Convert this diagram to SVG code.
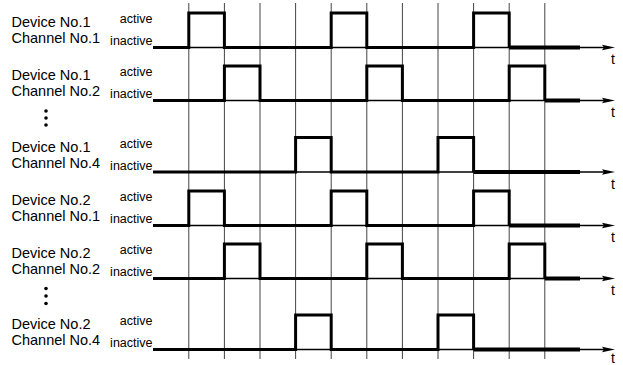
<svg xmlns="http://www.w3.org/2000/svg" width="623" height="365" viewBox="0 0 623 365">
<style>
.lbl{font-family:"Liberation Sans",Arial,sans-serif;font-size:14.5px;fill:#000}
.st{font-family:"Liberation Sans",Arial,sans-serif;font-size:12.5px;fill:#000;text-anchor:end}
.t{font-family:"Liberation Sans",Arial,sans-serif;font-size:14px;fill:#000}
.grid{stroke:#444;stroke-width:1;fill:none}
.axis{stroke:#000;stroke-width:1.6;fill:none}
.sig{stroke:#000;stroke-width:3;fill:none;stroke-linejoin:miter;stroke-linecap:butt}
.tail{stroke:#000;stroke-width:4;fill:none}
.dot{fill:#000}
</style>
<defs>
<g id="arrow"><polygon points="615,0 602,-2.8 604,0 602,2.8" fill="#000"/></g>
</defs>
<g id="grid" class="grid">
<line x1="188.8" y1="3" x2="188.8" y2="359"/>
<line x1="224.4" y1="3" x2="224.4" y2="359"/>
<line x1="260" y1="3" x2="260" y2="359"/>
<line x1="295.6" y1="3" x2="295.6" y2="359"/>
<line x1="331.2" y1="3" x2="331.2" y2="359"/>
<line x1="366.8" y1="3" x2="366.8" y2="359"/>
<line x1="402.4" y1="3" x2="402.4" y2="359"/>
<line x1="438" y1="3" x2="438" y2="359"/>
<line x1="473.6" y1="3" x2="473.6" y2="359"/>
<line x1="509.2" y1="3" x2="509.2" y2="359"/>
<line x1="544.8" y1="3" x2="544.8" y2="359"/>
</g>
<g id="connectors">
<line class="axis" x1="153" y1="47.5" x2="604" y2="47.5"/><use href="#arrow" y="47.5"/>
<line class="axis" x1="153" y1="100.5" x2="604" y2="100.5"/><use href="#arrow" y="100.5"/>
<line class="axis" x1="153" y1="172" x2="604" y2="172"/><use href="#arrow" y="172"/>
<line class="axis" x1="153" y1="225.5" x2="604" y2="225.5"/><use href="#arrow" y="225.5"/>
<line class="axis" x1="153" y1="278.5" x2="604" y2="278.5"/><use href="#arrow" y="278.5"/>
<line class="axis" x1="153" y1="349.5" x2="604" y2="349.5"/><use href="#arrow" y="349.5"/>
</g>
<g id="dev1ch1">
<text class="lbl" x="11.5" y="26.7">Device No.1</text>
<text class="lbl" x="11.5" y="43.3">Channel No.1</text>
<text class="st" x="152.5" y="22.7">active</text>
<text class="st" x="152.5" y="45">inactive</text>
<path class="sig" d="M153,47.5 H188.8 V13 H224.4 V47.5 H331.2 V13 H366.8 V47.5 H473.6 V13 H509.2 V47.5"/>
<line class="tail" x1="509.2" y1="47.5" x2="580" y2="47.5"/>
<text class="t" x="611" y="64">t</text>
</g>
<g id="dev1ch2">
<text class="lbl" x="11.5" y="79.7">Device No.1</text>
<text class="lbl" x="11.5" y="96.3">Channel No.2</text>
<text class="st" x="152.5" y="75.7">active</text>
<text class="st" x="152.5" y="98">inactive</text>
<path class="sig" d="M153,100.5 H224.4 V66 H260 V100.5 H366.8 V66 H402.4 V100.5 H509.2 V66 H544.8 V100.5"/>
<line class="tail" x1="544.8" y1="100.5" x2="580" y2="100.5"/>
<text class="t" x="611" y="117">t</text>
</g>
<g id="dots1">
<circle class="dot" cx="46" cy="111" r="1.8"/>
<circle class="dot" cx="46" cy="118" r="1.8"/>
<circle class="dot" cx="46" cy="125" r="1.8"/>
</g>
<g id="dev1ch4">
<text class="lbl" x="11.5" y="151.5">Device No.1</text>
<text class="lbl" x="11.5" y="168">Channel No.4</text>
<text class="st" x="152.5" y="147.5">active</text>
<text class="st" x="152.5" y="169.5">inactive</text>
<path class="sig" d="M153,172 H295.6 V137.5 H331.2 V172 H438 V137.5 H473.6 V172"/>
<line class="tail" x1="473.6" y1="172" x2="580" y2="172"/>
<text class="t" x="611" y="188.5">t</text>
</g>
<g id="dev2ch1">
<text class="lbl" x="11.5" y="204.7">Device No.2</text>
<text class="lbl" x="11.5" y="221.3">Channel No.1</text>
<text class="st" x="152.5" y="200.7">active</text>
<text class="st" x="152.5" y="223">inactive</text>
<path class="sig" d="M153,225.5 H188.8 V191 H224.4 V225.5 H331.2 V191 H366.8 V225.5 H473.6 V191 H509.2 V225.5"/>
<line class="tail" x1="509.2" y1="225.5" x2="580" y2="225.5"/>
<text class="t" x="611" y="242">t</text>
</g>
<g id="dev2ch2">
<text class="lbl" x="11.5" y="257.7">Device No.2</text>
<text class="lbl" x="11.5" y="274.3">Channel No.2</text>
<text class="st" x="152.5" y="253.7">active</text>
<text class="st" x="152.5" y="276">inactive</text>
<path class="sig" d="M153,278.5 H224.4 V244 H260 V278.5 H366.8 V244 H402.4 V278.5 H509.2 V244 H544.8 V278.5"/>
<line class="tail" x1="544.8" y1="278.5" x2="580" y2="278.5"/>
<text class="t" x="611" y="295">t</text>
</g>
<g id="dots2">
<circle class="dot" cx="46" cy="288.5" r="1.8"/>
<circle class="dot" cx="46" cy="296" r="1.8"/>
<circle class="dot" cx="46" cy="303.5" r="1.8"/>
</g>
<g id="dev2ch4">
<text class="lbl" x="11.5" y="328.7">Device No.2</text>
<text class="lbl" x="11.5" y="345.3">Channel No.4</text>
<text class="st" x="152.5" y="324.7">active</text>
<text class="st" x="152.5" y="347">inactive</text>
<path class="sig" d="M153,349.5 H295.6 V315 H331.2 V349.5 H438 V315 H473.6 V349.5"/>
<line class="tail" x1="473.6" y1="349.5" x2="580" y2="349.5"/>
<text class="t" x="611" y="362.5">t</text>
</g>
</svg>
